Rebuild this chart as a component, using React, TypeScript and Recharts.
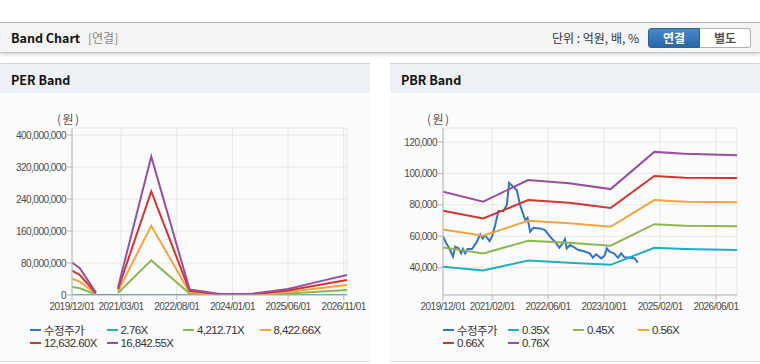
import React from 'react';
import { LineChart, Line, XAxis, YAxis, CartesianGrid } from 'recharts';

const HANGUL = '"Noto Sans CJK KR", sans-serif';
const SANS = '"Liberation Sans", "Noto Sans CJK KR", sans-serif';

const perXTicks = ['2019/12/01', '2021/03/01', '2022/08/01', '2024/01/01', '2025/06/01', '2026/11/01'];
const pbrXTicks = ['2019/12/01', '2021/02/01', '2022/06/01', '2023/10/01', '2025/02/01', '2026/06/01'];
const xRange = ['2019/12/01', '2026/12/01'];
const perYTicks = [0, 80000000, 160000000, 240000000, 320000000, 400000000];
const pbrYTicks = [40000, 60000, 80000, 100000, 120000];

const seriesColors = ['#3574c4', '#1eaec6', '#8cb753', '#f2a53a', '#d0352f', '#974f9e'];
const perNames = ['수정주가', '2.76X', '4,212.71X', '8,422.66X', '12,632.60X', '16,842.55X'];
const pbrNames = ['수정주가', '0.35X', '0.45X', '0.56X', '0.66X', '0.76X'];

// adjusted price (shared by both charts)
const priceDates = [
  '2019/12/01', '2019/12/29', '2020/01/25', '2020/02/26', '2020/03/16', '2020/04/14', '2020/05/07',
  '2020/05/22', '2020/06/11', '2020/07/01', '2020/08/09', '2020/09/21', '2020/10/20', '2020/11/12',
  '2020/12/02', '2021/01/09', '2021/01/30', '2021/02/27', '2021/03/27', '2021/05/09', '2021/06/08',
  '2021/06/28', '2021/08/05', '2021/09/03', '2021/10/02', '2021/11/15', '2021/12/05', '2021/12/28',
  '2022/01/26', '2022/03/23', '2022/05/06', '2022/06/19', '2022/08/01', '2022/09/08', '2022/10/07',
  '2022/10/27', '2022/11/11', '2022/12/10', '2023/01/08', '2023/02/20', '2023/04/03', '2023/05/31',
  '2023/06/26', '2023/07/25', '2023/09/07', '2023/10/06', '2023/10/26', '2023/11/19', '2023/12/26',
  '2024/01/31', '2024/02/28', '2024/03/28', '2024/05/10', '2024/06/23', '2024/07/21',
];
const priceValues = [
  60100, 55500, 52300, 47000, 53300, 52300, 49100,
  51900, 49100, 51900, 51900, 56500, 61200, 58600,
  60700, 56900, 59700, 67100, 76000, 76000, 79800,
  94000, 91400, 89300, 79800, 70300, 71700, 62900,
  65400, 65000, 63900, 59700, 56500, 52700, 55500,
  58200, 52300, 54400, 53300, 51200, 50600, 49100,
  46400, 48500, 45900, 47600, 52300, 50200, 49100,
  46400, 49100, 46400, 46400, 45900, 43200,
];

// PER bands
const perBandDates = [
  '2019/12/01', '2020/02/12', '2020/07/10', '2020/10/01', '2021/02/01', '2021/12/07', '2022/11/28',
  '2023/04/20', '2023/09/20', '2024/06/28', '2025/06/01', '2026/02/01', '2026/12/01',
];
const per276 = [13300, 11000, 1000, null, 3100, 56700, 2300, 1300, 250, 490, 2460, 5080, 8200];
const per4212 = [20.3e6, 16.8e6, 1.5e6, null, 4.8e6, 86.5e6, 3.5e6, 2e6, 0.4e6, 0.75e6, 3.75e6, 7.7e6, 12.5e6];
const per8422 = [40.5e6, 33.5e6, 3e6, null, 9.5e6, 173e6, 7e6, 4e6, 0.8e6, 1.5e6, 7.5e6, 15.5e6, 25e6];
const per12632 = [61e6, 50e6, 4.5e6, null, 14.3e6, 259e6, 10.5e6, 6e6, 1.2e6, 2.2e6, 11.2e6, 23e6, 37.5e6];
const per16842 = [81e6, 67e6, 6e6, null, 19e6, 346e6, 14e6, 8e6, 1.6e6, 3e6, 15e6, 31e6, 50e6];

// PBR bands
const pbrBandDates = [
  '2019/12/01', '2020/11/15', '2021/12/10', '2022/12/01', '2023/11/28', '2024/12/12', '2025/09/01', '2026/12/01',
];
const pbr035 = [40600, 38200, 44500, 43200, 41800, 52700, 51900, 51200];
const pbr045 = [52900, 49100, 57100, 55900, 54000, 67700, 66700, 66400];
const pbr056 = [64300, 60300, 69900, 68300, 66000, 83000, 81900, 81700];
const pbr066 = [76200, 71300, 83000, 81300, 78000, 98400, 97300, 97100];
const pbr076 = [88300, 82000, 95800, 93800, 90000, 113700, 112500, 111500];

const toTs = (s: string) => {
  const [y, m, d] = s.split('/').map(Number);
  return Date.UTC(y, m - 1, d);
};
const fmtDate = (t: number) => {
  const d = new Date(t);
  const p = (n: number) => String(n).padStart(2, '0');
  return `${d.getUTCFullYear()}/${p(d.getUTCMonth() + 1)}/${p(d.getUTCDate())}`;
};
const zip = (dates: string[], vals: (number | null)[]) => dates.map((d, i) => ({ t: toTs(d), v: vals[i] }));

const axisColor = '#b4b4b4';
const tickStyle = { fill: '#4a4a4a', fontSize: 10, fontFamily: SANS, letterSpacing: -0.5 };

type PanelProps = {
  title: string;
  left: number;
  xTicks: string[];
  yTicks: number[];
  yDomain: [number, number];
  yWidth: number;
  names: string[];
  series: { t: number; v: number | null }[][];
  legendLeft: number;
  legendCol: number;
};

function BandPanel(p: PanelProps) {
  const xDomain = xRange.map(toTs);
  return (
    <div style={{ position: 'absolute', left: p.left, top: 63, width: 370, height: 299, background: '#fbfbfb', borderTop: '1px solid #cfd3d8', borderBottom: '1px solid #ddd', boxSizing: 'border-box' }}>
      <div style={{ height: 29, background: '#eef1f6', fontFamily: HANGUL, fontWeight: 700, fontSize: 12.5, color: '#111', lineHeight: '31px', paddingLeft: 11 }}>
        {p.title}
      </div>
      <div style={{ position: 'absolute', left: p.left === 0 ? 57 : 37, top: 46, fontFamily: HANGUL, fontSize: 12, letterSpacing: 1.5, color: '#555' }}>(원)</div>
      <div style={{ position: 'absolute', left: 0, top: 29 }}>
        <LineChart width={370} height={230} margin={{ top: 35, right: 23, bottom: 6, left: 0 }}>
          <CartesianGrid stroke="#e6e6e6" />
          <XAxis
            dataKey="t"
            type="number"
            scale="time"
            domain={xDomain}
            ticks={p.xTicks.map(toTs)}
            tickFormatter={fmtDate}
            allowDataOverflow
            height={22}
            tick={tickStyle}
            tickSize={5}
            tickMargin={3}
            stroke={axisColor}
            interval={0}
          />
          <XAxis xAxisId="top" orientation="top" type="number" domain={xDomain} tick={false} tickLine={false} height={0} stroke={axisColor} />
          <YAxis
            type="number"
            domain={p.yDomain}
            ticks={p.yTicks}
            allowDataOverflow
            width={p.yWidth}
            tick={tickStyle}
            tickSize={5}
            tickMargin={1}
            stroke={axisColor}
            interval={0}
            tickFormatter={(v: number) => v.toLocaleString('en-US')}
          />
          <YAxis yAxisId="right" orientation="right" domain={p.yDomain} tick={false} tickLine={false} width={0} stroke={axisColor} />
          {p.series.map((data, i) => (
            <Line
              key={p.names[i]}
              name={p.names[i]}
              data={data}
              dataKey="v"
              type="linear"
              stroke={seriesColors[i]}
              strokeWidth={2}
              dot={false}
              activeDot={false}
              isAnimationActive={false}
            />
          ))}
        </LineChart>
      </div>
      <div style={{ position: 'absolute', left: p.legendLeft - p.left, top: 259, width: p.legendCol * 4 }}>
        {p.names.map((n, i) => (
          <div key={n} style={{ position: 'absolute', left: (i % 4) * p.legendCol, top: Math.floor(i / 4) * 13.5, height: 13, display: 'flex', alignItems: 'center', whiteSpace: 'nowrap' }}>
            <span style={{ display: 'inline-block', width: 11, height: 2, background: seriesColors[i], marginRight: 3 }} />
            <span style={{ fontFamily: SANS, fontSize: 11.5, letterSpacing: -0.6, color: '#333' }}>{n}</span>
          </div>
        ))}
      </div>
    </div>
  );
}

export default function App() {
  const perSeries = [
    zip(priceDates, priceValues),
    zip(perBandDates, per276),
    zip(perBandDates, per4212),
    zip(perBandDates, per8422),
    zip(perBandDates, per12632),
    zip(perBandDates, per16842),
  ];
  const pbrSeries = [
    zip(priceDates, priceValues),
    zip(pbrBandDates, pbr035),
    zip(pbrBandDates, pbr045),
    zip(pbrBandDates, pbr056),
    zip(pbrBandDates, pbr066),
    zip(pbrBandDates, pbr076),
  ];
  return (
    <div style={{ position: 'absolute', left: 0, top: 0, width: 760, height: 364, overflow: 'hidden', background: '#fff' }}>
      <div style={{ position: 'absolute', left: 0, top: 22, width: 760, height: 31, background: '#f4f4f4', borderTop: '1px solid #b4b4b4', borderBottom: '1px solid #c8c8c8', boxShadow: '0 2px 3px rgba(0,0,0,0.15)', boxSizing: 'border-box' }}>
        <span style={{ position: 'absolute', left: 11, top: 5, fontFamily: HANGUL, fontWeight: 700, fontSize: 12.5, color: '#111' }}>Band Chart</span>
        <span style={{ position: 'absolute', left: 88, top: 6, fontFamily: HANGUL, fontSize: 12, color: '#888' }}>[연결]</span>
        <span style={{ position: 'absolute', left: 552, top: 6, fontFamily: HANGUL, fontSize: 12, color: '#333' }}>단위 : 억원, 배, %</span>
        <div style={{ position: 'absolute', left: 648, top: 5, width: 52, height: 20, background: 'linear-gradient(#4787c6, #2b68a9)', border: '1px solid #2a63a0', borderRadius: '3px 0 0 3px', boxSizing: 'border-box', color: '#fff', fontFamily: HANGUL, fontWeight: 700, fontSize: 12, textAlign: 'center', lineHeight: '18px' }}>연결</div>
        <div style={{ position: 'absolute', left: 700, top: 5, width: 51, height: 20, background: '#fff', border: '1px solid #b0b0b0', borderLeft: 'none', borderRadius: '0 3px 3px 0', boxSizing: 'border-box', color: '#555', fontFamily: HANGUL, fontWeight: 700, fontSize: 12, textAlign: 'center', lineHeight: '18px' }}>별도</div>
      </div>
      <BandPanel
        title="PER Band"
        left={0}
        xTicks={perXTicks}
        yTicks={perYTicks}
        yDomain={[0, 417500000]}
        yWidth={72}
        names={perNames}
        series={perSeries}
        legendLeft={30}
        legendCol={76.5}
      />
      <BandPanel
        title="PBR Band"
        left={390}
        xTicks={pbrXTicks}
        yTicks={pbrYTicks}
        yDomain={[22600, 128900]}
        yWidth={53}
        names={pbrNames}
        series={pbrSeries}
        legendLeft={443}
        legendCol={65}
      />
    </div>
  );
}
